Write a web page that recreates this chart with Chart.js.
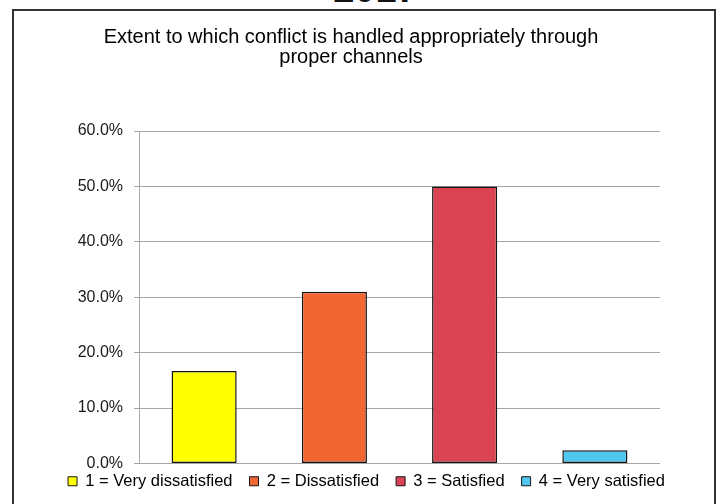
<!DOCTYPE html>
<html>
<head>
<meta charset="utf-8">
<script src="https://cdn.jsdelivr.net/npm/chart.js@4.4.1/dist/chart.umd.min.js"></script>
<style>
  html, body { margin: 0; padding: 0; background: #ffffff; overflow: hidden; }
  body { width: 721px; height: 504px; position: relative; font-family: "Liberation Sans", Arial, sans-serif; }
  #heading { position: absolute; left: 0; width: 751px; top: -31.5px; text-align: center; font-size: 38px; font-weight: bold; line-height: 40px; color: #111; }
  #frame { position: absolute; left: 12px; top: 9px; width: 700px; height: 600px; border: 2px solid #333; }
  #wrap { position: absolute; left: 0; top: 0; width: 721px; height: 504px; }
</style>
</head>
<body>
<div id="heading">2017</div>
<div id="frame"></div>
<div id="wrap"><canvas id="c" width="721" height="504"></canvas></div>
<script>
const titleLines = ["Extent to which conflict is handled appropriately through", "proper channels"];
const categories = ["1 = Very dissatisfied", "2 = Dissatisfied", "3 = Satisfied", "4 = Very satisfied"];
const percentValues = [16.7, 31.0, 50.0, 2.4];
const barColors = ["#ffff00", "#f06734", "#d94352", "#4fc7ef"];
const yTicks = [0, 10, 20, 30, 40, 50, 60];

const nudge = {
  id: 'nudge',
  afterLayout(chart) {
    const t = chart.titleBlock;
    if (t) { t.left += 11; t.right += 11; }
    const l = chart.legend;
    if (l) { l.top -= 7.5; l.bottom -= 7.5; l.left += 26.5; l.right += 26.5; }
  }
};

new Chart(document.getElementById('c'), {
  type: 'bar',
  data: {
    labels: categories,
    datasets: [{
      data: percentValues,
      backgroundColor: barColors,
      borderColor: '#151515',
      borderWidth: 1.5,
      borderSkipped: false,
      barPercentage: 0.5,
      categoryPercentage: 1.0
    }]
  },
  options: {
    responsive: false,
    animation: false,
    devicePixelRatio: 1,
    layout: { padding: { left: 20, right: 61, top: 0, bottom: -3 } },
    plugins: {
      tooltip: { enabled: false },
      title: {
        display: true,
        text: titleLines,
        color: '#000',
        font: { family: '"Liberation Sans", Arial, sans-serif', size: 20, weight: 'normal', lineHeight: 1.0 },
        padding: { top: 27, bottom: 64 }
      },
      legend: {
        display: true,
        position: 'bottom',
        labels: {
          color: '#111',
          font: { family: '"Liberation Sans", Arial, sans-serif', size: 16.5 },
          boxWidth: 9,
          boxHeight: 9,
          padding: 17,
          generateLabels(chart) {
            return categories.map((c, i) => ({
              text: c,
              fillStyle: barColors[i],
              strokeStyle: '#151515',
              lineWidth: 1,
              hidden: false,
              index: i,
              datasetIndex: 0
            }));
          }
        }
      }
    },
    scales: {
      x: {
        display: false,
        grid: { display: false }
      },
      y: {
        min: 0,
        max: 60,
        afterBuildTicks(scale) { scale.ticks = yTicks.map(v => ({ value: v })); },
        afterFit(scale) { scale.width = 119; },
        ticks: {
          color: '#1a1a1a',
          font: { family: '"Liberation Sans", Arial, sans-serif', size: 16 },
          padding: 11,
          callback: v => v.toFixed(1) + '%'
        },
        grid: { color: '#a6a6a6', lineWidth: 1, tickLength: 5, drawTicks: true },
        border: { display: true, color: '#a6a6a6', width: 1 }
      }
    }
  },
  plugins: [nudge]
});
</script>
</body>
</html>
